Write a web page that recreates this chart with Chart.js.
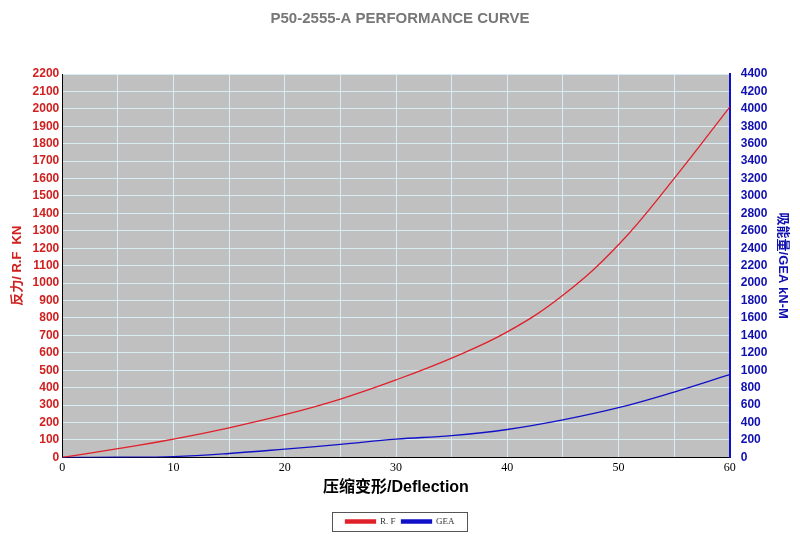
<!DOCTYPE html>
<html><head><meta charset="utf-8">
<script src="https://cdn.jsdelivr.net/npm/chart.js@4/dist/chart.umd.min.js"></script>
<style>body{margin:0;background:#fff}#w{width:800px;height:544px}</style></head>
<body><div id="w"><canvas id="c"></canvas></div>
<script>
const deflection=[0,5,10,15,20,25,30,35,40,45,50,55,60];
const rf=[0,50,105,170,245,335,445,570,720,930,1220,1600,2010];
const gea=[0,2,10,45,95,150,210,250,320,430,570,750,950];
const xy=(a)=>deflection.map((x,i)=>({x,y:a[i]}));
const legendBox={id:'lb',afterDraw(ch){const ctx=ch.ctx;ctx.save();ctx.strokeStyle='#555';ctx.lineWidth=1;ctx.strokeRect(332.5,512.5,135,19);ctx.restore();}};
new Chart(document.getElementById('c'),{type:'line',
data:{datasets:[
{label:'R. F',data:xy(rf),borderColor:'#e0202a',backgroundColor:'#e0202a',borderWidth:1.3,pointRadius:0,tension:0.4,yAxisID:'y'},
{label:'GEA',data:xy(gea),borderColor:'#1010c8',backgroundColor:'#1010c8',borderWidth:1.3,pointRadius:0,tension:0.4,yAxisID:'y2'}]},
options:{responsive:true,maintainAspectRatio:false,animation:false,
layout:{padding:{left:6,right:6,top:0,bottom:8}},
plugins:{title:{display:true,text:'P50-2555-A PERFORMANCE CURVE',color:'#777',font:{family:'Arial',size:15,weight:'bold'},padding:{top:10,bottom:46}},
legend:{position:'bottom',labels:{boxWidth:30,boxHeight:3,color:'#333',font:{family:'Liberation Serif',size:9},padding:6}},tooltip:{enabled:false}},
scales:{
x:{type:'linear',min:0,max:60,ticks:{stepSize:5,color:'#000',font:{family:'Liberation Serif',size:12},callback:v=>v%10===0?String(v):''},
grid:{color:'#d8ecf4',drawTicks:false},border:{color:'#000'},
title:{display:true,text:'压缩变形/Deflection',color:'#000',font:{family:'Arial, Noto Sans CJK SC',size:16,weight:'bold'},padding:{top:0,bottom:14}}},
y:{position:'left',min:0,max:2200,ticks:{stepSize:100,color:'#d02020',font:{family:'Arial',size:12,weight:'bold'},callback:v=>String(v)},
grid:{color:'#d8ecf4',drawTicks:false},border:{color:'#000'},
title:{display:true,text:'反力/ R.F  KN',color:'#d02020',font:{family:'Arial, Noto Sans CJK SC',size:13,weight:'bold'}}},
y2:{position:'right',min:0,max:4400,ticks:{stepSize:200,color:'#1010b0',font:{family:'Arial',size:12,weight:'bold'},callback:v=>String(v)},
grid:{display:false},border:{color:'#1010c8',width:2},
title:{display:true,text:'吸能量/GEA kN-M',color:'#1010b0',font:{family:'Arial, Noto Sans CJK SC',size:13,weight:'bold'}}}}},
plugins:[{id:'bg',beforeDraw(ch){const a=ch.chartArea,c=ch.ctx;c.save();c.fillStyle='#c0c0c0';c.fillRect(a.left,a.top,a.right-a.left,a.bottom-a.top);c.restore();}},legendBox]});
</script></body></html>
